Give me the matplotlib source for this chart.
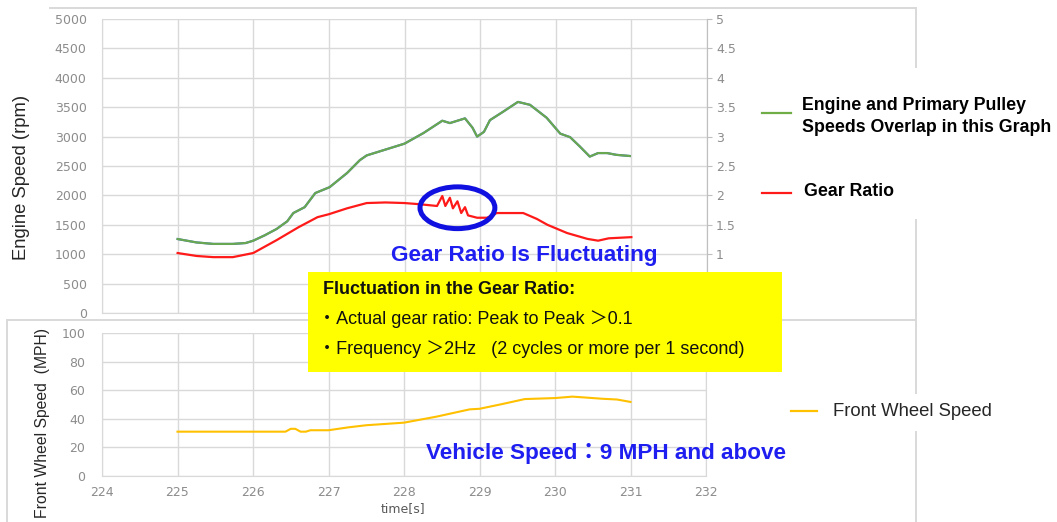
import matplotlib
matplotlib.use("Agg")
import matplotlib.pyplot as plt
from matplotlib.patches import Ellipse, Rectangle
from matplotlib.lines import Line2D

# engine speed (rpm); primary pulley speed overlaps it
eng_t = [225.00, 225.25, 225.47, 225.73, 225.90, 226.00, 226.15, 226.31, 226.45, 226.53,
         226.68, 226.82, 227.01, 227.24, 227.41, 227.50, 227.75, 228.00, 228.25, 228.50,
         228.60, 228.70, 228.80, 228.90, 228.96, 229.05, 229.13, 229.30, 229.50, 229.66,
         229.88, 230.06, 230.19, 230.32, 230.45, 230.56, 230.68, 230.80, 230.98]
eng_rpm = [1258, 1200, 1175, 1175, 1190, 1230, 1320, 1430, 1560, 1700,
           1800, 2040, 2140, 2380, 2600, 2680, 2780, 2880, 3060, 3270,
           3230, 3270, 3310, 3150, 3000, 3080, 3280, 3420, 3590, 3540,
           3320, 3050, 2990, 2830, 2660, 2720, 2720, 2690, 2670]
pulley_rpm = list(eng_rpm)

# gear ratio (right axis)
gear_t = [225.00, 225.25, 225.47, 225.73, 226.00, 226.31, 226.60, 226.85, 227.00, 227.24,
          227.50, 227.75, 228.00, 228.20, 228.43, 228.50, 228.54, 228.60, 228.64, 228.70,
          228.75, 228.80, 228.84, 228.96, 229.09, 229.22, 229.57, 229.75, 229.89, 230.15,
          230.42, 230.56, 230.70, 231.00]
gear_ratio = [1.02, 0.97, 0.95, 0.95, 1.02, 1.24, 1.46, 1.63, 1.68, 1.78,
              1.87, 1.88, 1.87, 1.85, 1.82, 1.99, 1.82, 1.96, 1.78, 1.90,
              1.70, 1.80, 1.66, 1.62, 1.62, 1.70, 1.70, 1.60, 1.50, 1.36,
              1.26, 1.23, 1.27, 1.29]

# front wheel speed (MPH)
wheel_t = [225.00, 226.43, 226.50, 226.56, 226.63, 226.70, 226.76, 227.00, 227.26, 227.50,
           228.00, 228.43, 228.87, 229.00, 229.30, 229.60, 230.00, 230.23, 230.37, 230.63,
           230.82, 231.00]
wheel_mph = [31, 31, 33, 33, 31, 31, 32, 32, 34, 35.5,
             37.3, 41.5, 46.6, 47, 50.3, 53.8, 54.5, 55.5, 55, 54,
             53.5, 51.8]

rpm_ticks = list(range(0, 5001, 500))
ratio_ticks = [0, 0.5, 1, 1.5, 2, 2.5, 3, 3.5, 4, 4.5, 5]
ratio_labels = ["0", "0.5", "1", "1.5", "2", "2.5", "3", "3.5", "4", "4.5", "5"]
mph_ticks = [0, 20, 40, 60, 80, 100]
time_ticks = list(range(224, 233))

W, H = 1057, 522
GRID = "#d9d9d9"
TICK = "#8c8c8c"
BLUE = "#1e1ef0"
TXT = ["Liberation Sans", "Noto Sans CJK JP"]


def fx(x):
    return x / W


def fy(y):
    return 1 - y / H


fig = plt.figure(figsize=(W / 100, H / 100), dpi=100)

# chart frames (light grey borders of the original spreadsheet charts)
frame = dict(color="#d9d9d9", lw=1.4, transform=fig.transFigure)
for xs, ys in [((50, 916), (8, 8)), ((916, 916), (8, 67)), ((916, 916), (220, 320)),
               ((8, 916), (320, 320)), ((7, 7), (320, 522)),
               ((916, 916), (320, 393)), ((916, 916), (432, 522))]:
    fig.add_artist(Line2D([fx(xs[0]), fx(xs[1])], [fy(ys[0]), fy(ys[1])], **frame))

# top chart
ax1 = fig.add_axes([fx(102), fy(313), fx(605), 294 / H])
ax1.plot(eng_t, pulley_rpm, color="#4472c4", lw=1.6, zorder=3)
ax1.plot(eng_t, eng_rpm, color="#6aa84f", lw=1.5, zorder=4)
ax1.set_xlim(224, 232)
ax1.set_ylim(0, 5000)
ax1.set_xticks(time_ticks)
ax1.set_xticklabels([])
ax1.set_yticks(rpm_ticks)
ax1.tick_params(axis="x", length=0)
ax1.tick_params(axis="y", length=0, pad=11, labelsize=9, labelcolor=TICK)
ax1.grid(True, color=GRID, lw=1)
ax1.set_axisbelow(True)
for s in ax1.spines.values():
    s.set_color(GRID)
ax1.spines["top"].set_visible(False)

ax1r = ax1.twinx()
ax1r.plot(gear_t, gear_ratio, color="#ff1a1a", lw=1.6, zorder=4)
ax1r.set_ylim(0, 5)
ax1r.set_yticks(ratio_ticks)
ax1r.set_yticklabels(ratio_labels)
ax1r.tick_params(axis="y", length=3.5, color="#bfbfbf", pad=3, labelsize=9, labelcolor=TICK)
for s in ax1r.spines.values():
    s.set_visible(False)
ax1r.spines["right"].set_visible(True)
ax1r.spines["right"].set_color("#bfbfbf")

ax1r.add_patch(Ellipse((228.70, 1.79), 0.99, 0.71, fill=False, ec="#1010e0", lw=3.6,
                       zorder=6, clip_on=False))

# bottom chart
ax2 = fig.add_axes([fx(102), fy(476), fx(604), 143 / H])
ax2.plot(wheel_t, wheel_mph, color="#ffc000", lw=1.5, zorder=3)
ax2.set_xlim(224, 232)
ax2.set_ylim(0, 100)
ax2.set_xticks(time_ticks)
ax2.set_yticks(mph_ticks)
ax2.tick_params(length=0, labelsize=9, labelcolor=TICK)
ax2.tick_params(axis="y", pad=12)
ax2.tick_params(axis="x", pad=7)
ax2.grid(True, color=GRID, lw=1)
ax2.set_axisbelow(True)
for s in ax2.spines.values():
    s.set_color(GRID)
ax2.spines["top"].set_visible(False)

# axis titles
fig.text(fx(22), fy(177), "Engine Speed (rpm)", rotation=90, ha="center", va="center",
         fontsize=13.3, color="#262626", family=TXT)
fig.text(fx(43), fy(423), "Front Wheel Speed  (MPH)", rotation=90, ha="center", va="center",
         fontsize=11.3, color="#262626", family=TXT)
fig.text(fx(403), fy(509), "time[s]", ha="center", va="center", fontsize=9, color="#595959")

# legend entries
fig.add_artist(Line2D([fx(762), fx(791)], [fy(113), fy(113)], color="#70ad47", lw=1.6,
                      transform=fig.transFigure))
fig.text(fx(802), fy(105), "Engine and Primary Pulley", ha="left", va="center",
         fontsize=12.8, fontweight="bold", family=TXT)
fig.text(fx(802), fy(128), "Speeds Overlap in this Graph", ha="left", va="center",
         fontsize=12.8, fontweight="bold", family=TXT)
fig.add_artist(Line2D([fx(762), fx(791)], [fy(193), fy(193)], color="#ff1a1a", lw=1.6,
                      transform=fig.transFigure))
fig.text(fx(804), fy(191), "Gear Ratio", ha="left", va="center",
         fontsize=12.8, fontweight="bold", family=TXT)
fig.add_artist(Line2D([fx(791), fx(817)], [fy(411), fy(411)], color="#ffc000", lw=1.6,
                      transform=fig.transFigure))
fig.text(fx(833), fy(412), "Front Wheel Speed", ha="left", va="center",
         fontsize=13.3, color="#262626", family=TXT)

# annotations
fig.text(fx(524), fy(256), "Gear Ratio Is Fluctuating", ha="center", va="center",
         fontsize=16.2, fontweight="bold", color=BLUE, family=TXT, zorder=7)
fig.add_artist(Rectangle((fx(308), fy(372)), fx(474), 100 / H, transform=fig.transFigure,
                         fc="#ffff00", ec="none", zorder=8))
fig.text(fx(323), fy(290), "Fluctuation in the Gear Ratio:", ha="left", va="center",
         fontsize=13, fontweight="bold", color="#111111", family=TXT, zorder=9)
fig.text(fx(318), fy(319), "・Actual gear ratio: Peak to Peak ＞0.1", ha="left", va="center",
         fontsize=13, color="#111111", family=TXT, zorder=9)
fig.text(fx(318), fy(349), "・Frequency ＞2Hz   (2 cycles or more per 1 second)", ha="left",
         va="center", fontsize=13, color="#111111", family=TXT, zorder=9)
fig.text(fx(606), fy(453), "Vehicle Speed：9 MPH and above", ha="center", va="center",
         fontsize=16.2, fontweight="bold", color=BLUE, family=TXT, zorder=7)

fig.savefig("out.png", dpi=100)
